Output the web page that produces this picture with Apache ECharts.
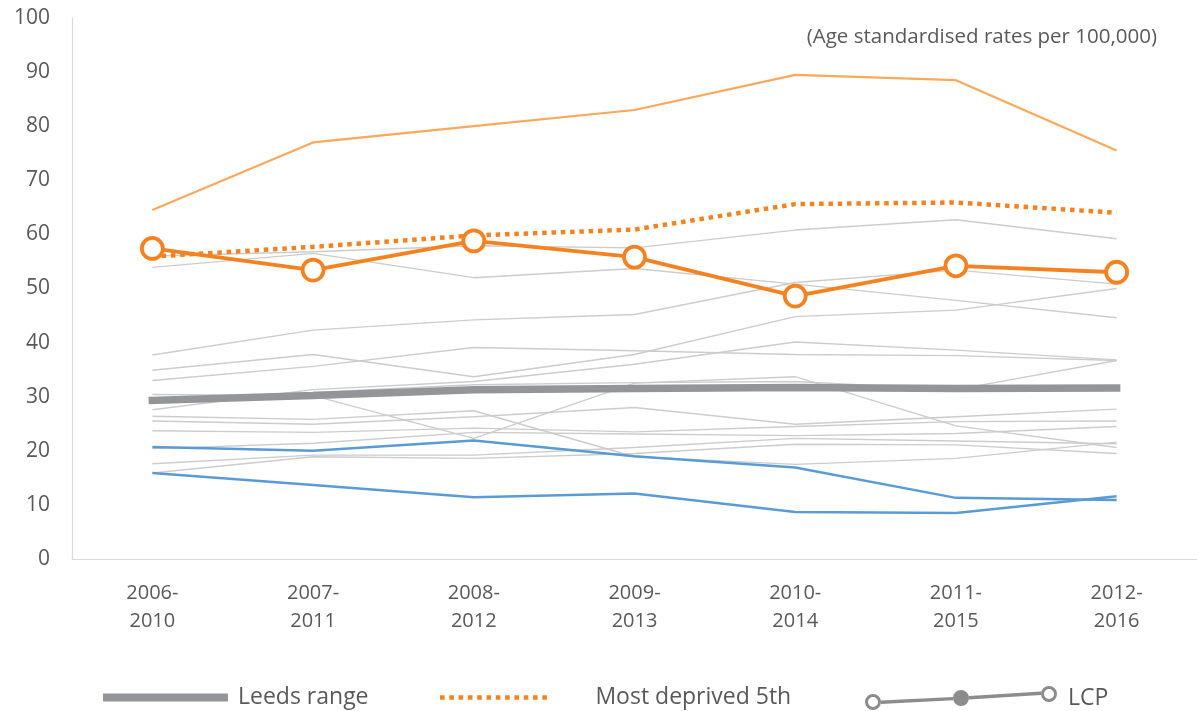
<!DOCTYPE html>
<html>
<head>
<meta charset="utf-8">
<script src="https://cdn.jsdelivr.net/npm/echarts@6/dist/echarts.min.js"></script>
<style>
  html, body { margin: 0; padding: 0; background: #ffffff; }
  #chart { width: 1197px; height: 711px; }
</style>
</head>
<body>
<div id="chart"></div>
<script>
// Periods (5-year rolling windows)
const categories = ['2006-\n2010', '2007-\n2011', '2008-\n2012', '2009-\n2013', '2010-\n2014', '2011-\n2015', '2012-\n2016'];
const yTicks = { min: 0, max: 100, interval: 10 };

// Headline series
const leedsRange   = [29.3, 30.2, 31.3, 31.5, 31.7, 31.5, 31.6];
const mostDeprived = [55.9, 57.7, 59.8, 60.9, 65.6, 65.9, 64.0];
const lcp          = [57.4, 53.4, 58.8, 55.8, 48.6, 54.2, 53.0];

// Highest and lowest areas
const highestArea  = [64.5, 77.0, 80.0, 83.0, 89.5, 88.5, 75.5];
const lowestAreaA  = [20.7, 20.0, 21.9, 19.0, 16.9, 11.3, 10.9];
const lowestAreaB  = [15.9, 13.7, 11.4, 12.1, 8.7, 8.5, 11.6];

// Other local areas
const area1  = [56.0, 56.8, 57.9, 57.5, 60.8, 62.7, 59.2];
const area2  = [53.9, 56.5, 52.0, 53.7, 50.8, 47.8, 44.6];
const area3  = [37.7, 42.3, 44.2, 45.2, 51.1, 53.4, 50.8];
const area4  = [34.9, 37.8, 33.7, 37.8, 44.8, 46.0, 50.0];
const area5  = [33.0, 35.6, 39.1, 38.5, 37.8, 37.6, 36.7];
const area6  = [27.6, 31.3, 32.8, 36.0, 40.1, 38.6, 36.8];
const area7  = [30.4, 30.2, 22.3, 32.5, 33.7, 24.6, 20.6];
const area8  = [29.5, 30.8, 32.2, 32.6, 32.8, 31.3, 36.7];
const area9  = [26.4, 25.8, 27.4, 18.9, 17.5, 18.6, 21.6];
const area10 = [25.5, 24.9, 26.3, 28.0, 24.9, 26.3, 27.7];
const area11 = [23.7, 23.4, 24.2, 23.5, 24.5, 25.4, 25.5];
const area12 = [20.4, 21.4, 23.4, 23.1, 22.8, 23.2, 24.5];
const area13 = [17.6, 19.2, 19.2, 20.6, 22.3, 21.8, 21.3];
const area14 = [15.9, 18.9, 18.6, 19.5, 21.2, 21.1, 19.5];

const otherAreas = [area1, area2, area3, area4, area5, area6, area7, area8, area9, area10, area11, area12, area13, area14];

const TEXT = '#595959';
const FONT = '"Open Sans", "Noto Sans", sans-serif';

// Legend icon for the LCP entry: three markers joined by a line
const lcpIcon = 'path://' +
  'M16 14.6 L88 10.9 L88 14.3 L16 18 Z ' +
  'M104 10.1 L176 5.6 L176 9 L104 13.5 Z ' +
  'M16 16 A8 8 0 1 1 0 16 A8 8 0 1 1 16 16 Z M13 16 A5 5 0 1 0 3 16 A5 5 0 1 0 13 16 Z ' +
  'M104 12 A8 8 0 1 1 88 12 A8 8 0 1 1 104 12 Z ' +
  'M192 8 A8 8 0 1 1 176 8 A8 8 0 1 1 192 8 Z M189 8 A5 5 0 1 0 179 8 A5 5 0 1 0 189 8 Z';

// Legend icon for the dotted entry: a row of small squares
let dotPath = 'path://';
for (let i = 0; i < 12; i++) {
  const x = i * 9.3;
  dotPath += 'M' + x.toFixed(1) + ' 0 L' + (x + 4.6).toFixed(1) + ' 0 L' + (x + 4.6).toFixed(1) + ' 4.6 L' + x.toFixed(1) + ' 4.6 Z ';
}

const series = [];
otherAreas.forEach((vals, i) => {
  series.push({
    name: 'Area ' + (i + 1),
    type: 'line',
    data: vals,
    symbol: 'none',
    silent: true,
    z: 1,
    lineStyle: { color: '#cccccc', width: 1.4 }
  });
});
series.push(
  {
    name: 'Leeds range', type: 'line', data: leedsRange, symbol: 'none', z: 2,
    itemStyle: { color: '#939598' },
    lineStyle: { color: '#939598', width: 7.5, cap: 'square' }
  },
  {
    name: 'Lowest area A', type: 'line', data: lowestAreaA, symbol: 'none', z: 3,
    lineStyle: { color: '#5b9bd5', width: 2.5 }
  },
  {
    name: 'Lowest area B', type: 'line', data: lowestAreaB, symbol: 'none', z: 3,
    lineStyle: { color: '#5b9bd5', width: 2.5 }
  },
  {
    name: 'Highest area', type: 'line', data: highestArea, symbol: 'none', z: 3,
    lineStyle: { color: '#f9a85c', width: 2.2 }
  },
  {
    name: 'Most deprived 5th', type: 'line', data: mostDeprived, symbol: 'none', z: 4,
    itemStyle: { color: '#f58220' },
    lineStyle: { color: '#f58220', width: 4.5, type: [4.5, 4.8], cap: 'butt' }
  },
  {
    name: 'LCP', type: 'line', data: lcp, z: 5,
    symbol: 'circle', symbolSize: 21,
    itemStyle: { color: '#ffffff', borderColor: '#f58220', borderWidth: 3.8 },
    lineStyle: { color: '#f58220', width: 3.8 }
  }
);

const legendText = { color: TEXT, fontFamily: FONT, fontSize: 23 };

const option = {
  animation: false,
  backgroundColor: '#ffffff',
  grid: { left: 72, right: -11, top: 18, bottom: 152, containLabel: false },
  xAxis: {
    type: 'category',
    data: categories,
    boundaryGap: true,
    axisLine: { show: true, lineStyle: { color: '#d9d9d9', width: 1.2 } },
    axisTick: { show: false },
    axisLabel: { color: TEXT, fontFamily: FONT, fontSize: 20, lineHeight: 28, margin: 20 },
    splitLine: { show: false }
  },
  yAxis: {
    type: 'value',
    min: yTicks.min, max: yTicks.max, interval: yTicks.interval,
    axisLine: { show: true, lineStyle: { color: '#d9d9d9', width: 1.2 } },
    axisTick: { show: false },
    axisLabel: { color: TEXT, fontFamily: FONT, fontSize: 21, margin: 22 },
    splitLine: { show: false }
  },
  legend: [
    {
      left: 98, top: 681, selectedMode: false,
      data: [{ name: 'Leeds range', icon: 'rect', itemStyle: { color: '#939598' } }],
      itemWidth: 125, itemHeight: 8,
      textStyle: Object.assign({ padding: [0, 0, 0, 5] }, legendText)
    },
    {
      left: 435, top: 681, selectedMode: false,
      data: [{ name: 'Most deprived 5th', icon: dotPath, itemStyle: { color: '#f58220' } }],
      itemWidth: 107.9, itemHeight: 4.6,
      textStyle: Object.assign({ padding: [0, 0, 0, 43] }, legendText)
    },
    {
      left: 860, top: 681, selectedMode: false,
      data: [{ name: 'LCP', icon: lcpIcon, itemStyle: { color: '#8c8c8c', borderWidth: 0 } }],
      itemWidth: 192, itemHeight: 24,
      textStyle: Object.assign({ padding: [0, 0, 0, 6] }, legendText)
    }
  ],
  graphic: [
    {
      type: 'text', right: 40, top: 27,
      style: { text: '(Age standardised rates per 100,000)', fill: TEXT, font: '20.5px ' + FONT }
    }
  ],
  series: series
};

const chart = echarts.init(document.getElementById('chart'), null, { renderer: 'canvas' });
chart.setOption(option);
</script>
</body>
</html>
